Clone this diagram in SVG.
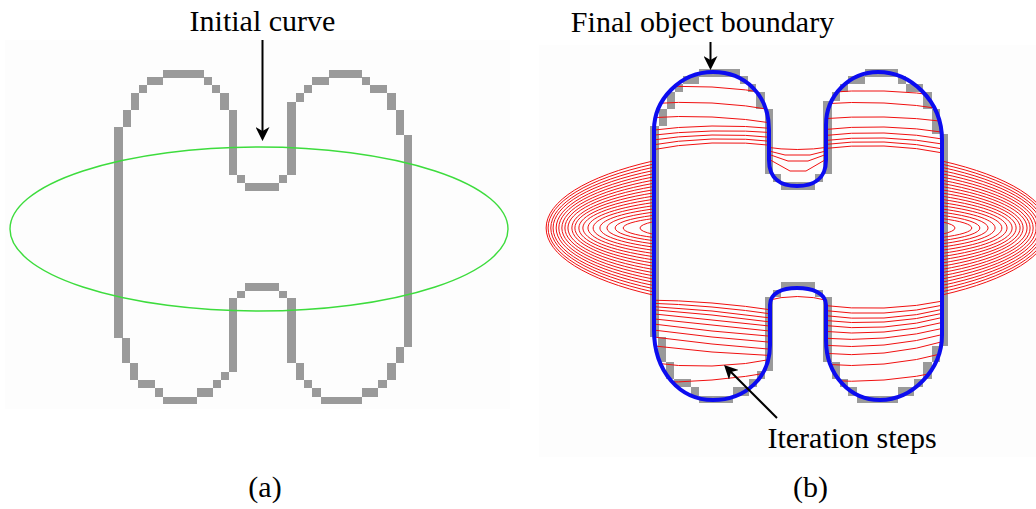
<svg xmlns="http://www.w3.org/2000/svg" xmlns:xlink="http://www.w3.org/1999/xlink" width="1036" height="509" viewBox="0 0 1036 509">
<style>
.px{fill:#9a9a9a}
.lbl{font-family:"Liberation Serif","Times New Roman",serif;font-size:30px;fill:#000}
.red{fill:none;stroke:#f01010;stroke-width:1}
.arr{stroke:#000;stroke-width:2;fill:none}
</style>
<defs>
<marker id="ah" viewBox="0 0 14 14" refX="6" refY="7" markerWidth="14" markerHeight="14" markerUnits="userSpaceOnUse" orient="auto">
<path d="M0,0 L14,7 L0,14 L4,7 Z" fill="#000"/>
</marker>
<g id="hpix" class="px">
<rect x="163" y="70" width="41" height="8"/>
<rect x="147" y="77" width="16" height="8"/>
<rect x="139" y="85" width="8" height="8"/>
<rect x="131" y="93" width="8" height="17"/>
<rect x="123" y="110" width="8" height="17"/>
<rect x="114" y="127" width="9" height="211"/>
<rect x="204" y="77" width="8" height="8"/>
<rect x="212" y="85" width="8" height="8"/>
<rect x="220" y="93" width="9" height="17"/>
<rect x="229" y="110" width="8" height="65"/>
<rect x="237" y="175" width="8" height="8"/>
<rect x="245" y="183" width="34" height="8"/>
<rect x="279" y="175" width="8" height="8"/>
<rect x="287" y="102" width="9" height="73"/>
<rect x="296" y="93" width="8" height="9"/>
<rect x="304" y="85" width="8" height="8"/>
<rect x="312" y="77" width="17" height="8"/>
<rect x="329" y="70" width="33" height="8"/>
<rect x="362" y="77" width="8" height="8"/>
<rect x="370" y="85" width="17" height="8"/>
<rect x="387" y="93" width="9" height="17"/>
<rect x="396" y="110" width="8" height="25"/>
<rect x="404" y="135" width="8" height="212"/>
<rect x="396" y="347" width="8" height="16"/>
<rect x="387" y="363" width="9" height="17"/>
<rect x="378" y="380" width="9" height="8"/>
<rect x="362" y="388" width="16" height="9"/>
<rect x="321" y="397" width="41" height="7"/>
<rect x="312" y="388" width="9" height="9"/>
<rect x="304" y="380" width="8" height="8"/>
<rect x="296" y="363" width="8" height="17"/>
<rect x="287" y="298" width="9" height="65"/>
<rect x="279" y="291" width="8" height="7"/>
<rect x="245" y="283" width="34" height="8"/>
<rect x="237" y="291" width="8" height="7"/>
<rect x="229" y="298" width="8" height="74"/>
<rect x="221" y="372" width="8" height="8"/>
<rect x="213" y="380" width="8" height="8"/>
<rect x="197" y="388" width="16" height="9"/>
<rect x="163" y="397" width="34" height="7"/>
<rect x="155" y="388" width="8" height="9"/>
<rect x="138" y="380" width="17" height="8"/>
<rect x="130" y="363" width="8" height="17"/>
<rect x="122" y="338" width="8" height="25"/>
</g>
<clipPath id="cin">
<path d="M654,330 L654,130 C654,100 680,72 713,72 C745,72 769,95 769,130 L769,160 C769,180 782,186 797,186 C812,186 826,180 826,160 L826,125 C826,95 850,72 878,72 C910,72 942,100 942,140 L942,335 C942,370 912,400 880,400 C850,400 826,375 826,340 L826,305 C826,293 812,288 797,288 C782,288 770,293 770,305 L770,345 C770,378 745,400 713,400 C680,400 654,372 654,330 Z"/>
</clipPath>
<clipPath id="cout">
<path clip-rule="evenodd" d="M0,0 H1036 V509 H0 Z M654,330 L654,130 C654,100 680,72 713,72 C745,72 769,95 769,130 L769,160 C769,180 782,186 797,186 C812,186 826,180 826,160 L826,125 C826,95 850,72 878,72 C910,72 942,100 942,140 L942,335 C942,370 912,400 880,400 C850,400 826,375 826,340 L826,305 C826,293 812,288 797,288 C782,288 770,293 770,305 L770,345 C770,378 745,400 713,400 C680,400 654,372 654,330 Z"/>
</clipPath>
<g id="sidearcs" class="red">
<path d="M653,161 A249,81.6 0 0 0 653,295"/>
<path d="M653,164.2 A242.7,77.5 0 0 0 653,291.8"/>
<path d="M653,167.4 A235.4,73.5 0 0 0 653,288.6"/>
<path d="M653,170.6 A229.1,69.5 0 0 0 653,285.4"/>
<path d="M653,173.8 A221.8,65.6 0 0 0 653,282.2"/>
<path d="M653,177 A214.5,61.6 0 0 0 653,279"/>
<path d="M653,180.2 A207.2,57.7 0 0 0 653,275.8"/>
<path d="M653,183.4 A199.9,53.8 0 0 0 653,272.6"/>
<path d="M653,186.6 A192.6,49.9 0 0 0 653,269.4"/>
<path d="M653,189.8 A184.3,46.1 0 0 0 653,266.2"/>
<path d="M653,193 A177,42.2 0 0 0 653,263"/>
<path d="M653,196.2 A168.7,38.4 0 0 0 653,259.8"/>
<path d="M653,199.4 A160.4,34.6 0 0 0 653,256.6"/>
<path d="M653,202.6 A151.1,30.9 0 0 0 653,253.4"/>
<path d="M653,205.8 A141.8,27.2 0 0 0 653,250.2"/>
<path d="M653,209 A130.5,23.6 0 0 0 653,247"/>
<path d="M653,212.2 A119.2,20 0 0 0 653,243.8"/>
<path d="M653,215.4 A106.9,16.5 0 0 0 653,240.6"/>
<path d="M653,218.6 A94.6,12.9 0 0 0 653,237.4"/>
<path d="M653,221.8 A73.3,10.9 0 0 0 653,234.2"/>
</g>
</defs>

<rect width="1036" height="509" fill="#fff"/>
<rect x="5" y="40" width="505" height="369" fill="#fdfdfd"/>
<rect x="539" y="45" width="497" height="412" fill="#fdfdfd"/>

<g id="panel-a">
<use href="#hpix"/>
<ellipse id="initial-curve" cx="259" cy="229" rx="249" ry="82" fill="none" stroke="#3ddc3d" stroke-width="1.4"/>
</g>

<g id="panel-b">
<use href="#hpix" transform="translate(536,-1)"/>
<g id="iterations-outside" clip-path="url(#cout)">
<use href="#sidearcs"/>
<use href="#sidearcs" transform="translate(1595,0) scale(-1,1)"/>
<g class="red">
<path d="M765,147 Q797,152 830,147"/>
<path d="M765,150 L785,155 L810,155 L830,150"/>
<path d="M765,153 L788,161 L808,161 L830,153"/>
<path d="M765,157 L790,171 L806,171 L830,157"/>
<path d="M765,301 Q797,292 830,301"/>
</g>
</g>
<g id="iterations-inside" clip-path="url(#cin)" class="red">
<path d="M645,88 Q712,82.5 779,95"/>
<path d="M645,104 Q712,98.5 779,111"/>
<path d="M645,118 Q712,113 779,124"/>
<path d="M645,131 Q712,122 779,129"/>
<path d="M645,136 Q712,127.5 779,133"/>
<path d="M645,141 Q712,130.5 779,138"/>
<path d="M645,146 Q712,134 779,142"/>
<path d="M645,151 Q712,137.5 779,146"/>
<path d="M819,93 Q884,87 949,97"/>
<path d="M819,104 Q884,99 949,110"/>
<path d="M819,119 Q884,113.5 949,122"/>
<path d="M819,130 Q884,122.5 949,133"/>
<path d="M819,136 Q884,128 949,140"/>
<path d="M819,141 Q884,133 949,145"/>
<path d="M819,145 Q884,136.5 949,150"/>
<path d="M819,149 Q884,140.5 949,154"/>
<path d="M645,300 Q712,300.5 779,311"/>
<path d="M645,303 Q712,305 779,315"/>
<path d="M645,306 Q712,309.5 779,319"/>
<path d="M645,309 Q712,314 779,323"/>
<path d="M645,313 Q712,320 779,327"/>
<path d="M645,318 Q712,325 779,332"/>
<path d="M645,323 Q712,332 779,337"/>
<path d="M645,329 Q712,338 779,343"/>
<path d="M645,336 Q712,345 779,350"/>
<path d="M645,345 Q712,353.5 779,356"/>
<path d="M645,362 Q712,372 779,358"/>
<path d="M645,382 Q712,383.5 779,371"/>
<path d="M819,305 Q884,313.5 949,300"/>
<path d="M819,310 Q884,319 949,304"/>
<path d="M819,315 Q884,324.5 949,308"/>
<path d="M819,320 Q884,328 949,312"/>
<path d="M819,325 Q884,333.5 949,316"/>
<path d="M819,331 Q884,338 949,321"/>
<path d="M819,338 Q884,343.5 949,327"/>
<path d="M819,345 Q884,351 949,333"/>
<path d="M819,353 Q884,359.5 949,340"/>
<path d="M819,364 Q884,370 949,352"/>
<path d="M819,380 Q884,385 949,370"/>
</g>
<path id="final-boundary" fill="none" stroke="#0c0cf0" stroke-width="4" stroke-linejoin="round" d="M654,330 L654,130 C654,100 680,72 713,72 C745,72 769,95 769,130 L769,160 C769,180 782,186 797,186 C812,186 826,180 826,160 L826,125 C826,95 850,72 878,72 C910,72 942,100 942,140 L942,335 C942,370 912,400 880,400 C850,400 826,375 826,340 L826,305 C826,293 812,288 797,288 C782,288 770,293 770,305 L770,345 C770,378 745,400 713,400 C680,400 654,372 654,330 Z"/>
</g>

<g id="connectors">
<line class="arr" x1="262.5" y1="40" x2="262.5" y2="133" marker-end="url(#ah)"/>
<line class="arr" x1="710.5" y1="42" x2="710.5" y2="62" marker-end="url(#ah)"/>
<line class="arr" x1="777" y1="418" x2="729.7" y2="370.7" marker-end="url(#ah)"/>
</g>

<g id="labels">
<text class="lbl" x="262.5" y="31" text-anchor="middle">Initial curve</text>
<text class="lbl" x="702.5" y="32" text-anchor="middle">Final object boundary</text>
<text class="lbl" x="852" y="448" text-anchor="middle">Iteration steps</text>
<text class="lbl" x="265" y="497" text-anchor="middle">(a)</text>
<text class="lbl" x="810.5" y="497" text-anchor="middle">(b)</text>
</g>
</svg>
